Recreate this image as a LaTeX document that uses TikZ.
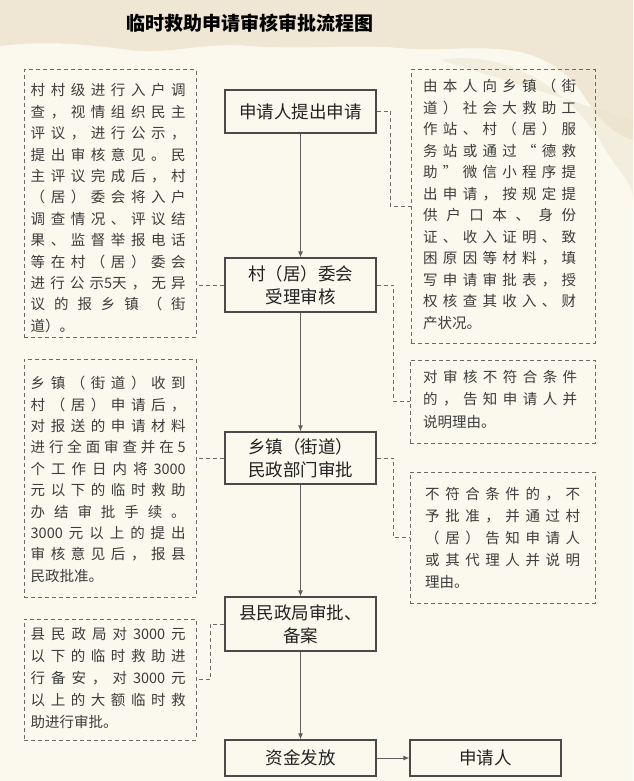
\documentclass[tikz,border=0pt]{standalone}
\usepackage{fontspec}
\newfontfamily\cjk{Noto Sans CJK SC}
\usetikzlibrary{arrows.meta,calc}
\definecolor{bgcream}{HTML}{FBF9EE}
\definecolor{bgbeige}{HTML}{EDE3CF}
\definecolor{boxline}{HTML}{4A4A4A}
\definecolor{maintext}{HTML}{222222}
\definecolor{notetext}{HTML}{3C3C3C}
\definecolor{dashcol}{HTML}{6A6A6A}
\newcommand{\jl}[2]{\makebox[#1][s]{#2}}
\tikzset{
  mainbox/.style={draw=boxline, line width=1.1pt, fill=bgcream, text=maintext,
    font=\cjk\fontsize{17.5}{23}\selectfont, align=center, inner sep=0pt},
  notebox/.style={draw=dashcol, line width=1pt, dash pattern=on 4pt off 3pt, inner sep=0pt},
  notetxt/.style={text=notetext, font=\cjk\fontsize{14.5}{21.4}\selectfont, align=left,
    inner sep=0pt, anchor=north west},
  flow/.style={draw=dashcol!90!black, line width=1pt, -{Latex[length=6pt,width=5pt]}},
  dline/.style={draw=dashcol, line width=1pt, dash pattern=on 4pt off 3pt},
}
\begin{document}
\begin{tikzpicture}[x=1pt,y=-1pt]
\useasboundingbox (0,0) rectangle (633,781);
\fill[bgcream] (0,0) rectangle (633,781);
% beige cloud background at top
\fill[bgbeige, opacity=0.85] (0,0) -- (633,0) -- (633,140)
  .. controls (615,135) and (600,120) .. (590,105)
  .. controls (575,80) and (555,60) .. (520,52)
  .. controls (480,44) and (440,52) .. (400,48)
  .. controls (350,44) and (300,50) .. (250,46)
  .. controls (200,42) and (170,55) .. (130,50)
  .. controls (90,45) and (50,40) .. (0,46) -- cycle;
\fill[bgbeige, opacity=0.5] (440,60) .. controls (500,50) and (560,80) .. (600,140)
  .. controls (615,170) and (633,180) .. (633,200) -- (633,120) -- cycle;

% title
\node[font=\cjk\bfseries\fontsize{19}{22}\selectfont, text=black] (title) at (250,23) {临时救助申请审核审批流程图};

% main boxes
\node[mainbox, minimum width=151pt, minimum height=43pt] (B1) at (300.5,111.5) {申请人提出申请};
\node[mainbox, minimum width=151pt, minimum height=54pt] (B2) at (300.5,285) {村（居）委会\\受理审核};
\node[mainbox, minimum width=151pt, minimum height=52pt] (B3) at (300.5,458) {乡镇（街道）\\民政部门审批};
\node[mainbox, minimum width=151pt, minimum height=54pt] (B4) at (300.5,624) {县民政局审批、\\备案};
\node[mainbox, minimum width=151pt, minimum height=36pt] (B5) at (300.5,758) {资金发放};
\node[mainbox, minimum width=151pt, minimum height=36pt] (B6) at (485.5,758) {申请人};

% dashed note boxes
\node[notebox, minimum width=172pt, minimum height=267pt] (L1) at (110,203.5) {};
\node[notebox, minimum width=172pt, minimum height=238pt] (L2) at (110,478) {};
\node[notebox, minimum width=172pt, minimum height=121pt] (L3) at (110,679.5) {};
\node[notebox, minimum width=184pt, minimum height=273pt] (R1) at (503,206.5) {};
\node[notebox, minimum width=185pt, minimum height=83pt] (R2) at (502.5,401.5) {};
\node[notebox, minimum width=185pt, minimum height=131pt] (R3) at (502.5,537.5) {};

% note texts
\node[notetxt] (L1t) at (30.5,83.5) {%
\jl{155pt}{村 村 级 进 行 入 户 调}\\
\jl{155pt}{查 ， 视 情 组 织 民 主}\\
\jl{155pt}{评 议 ， 进 行 公 示 ，}\\
\jl{155pt}{提 出 审 核 意 见 。 民}\\
\jl{155pt}{主 评 议 完 成 后 ， 村}\\
\jl{155pt}{（ 居 ） 委 会 将 入 户}\\
\jl{155pt}{调 查 情 况 、 评 议 结}\\
\jl{155pt}{果 、 监 督 举 报 电 话}\\
\jl{155pt}{等 在 村 （ 居 ） 委 会}\\
\jl{155pt}{进 行 公 示5天 ， 无 异}\\
\jl{155pt}{议 的 报 乡 镇 （ 街}\\
道）。};

\node[notetxt] (L2t) at (30.5,376) {%
\jl{155pt}{乡 镇 （ 街 道 ） 收 到}\\
\jl{155pt}{村 （ 居 ） 申 请 后 ，}\\
\jl{155pt}{对 报 送 的 申 请 材 料}\\
\jl{155pt}{进 行 全 面 审 查 并 在 5}\\
\jl{155pt}{个 工 作 日 内 将 3000}\\
\jl{155pt}{元 以 下 的 临 时 救 助}\\
\jl{155pt}{办 结 审 批 手 续 。}\\
\jl{155pt}{3000 元 以 上 的 提 出}\\
\jl{155pt}{审 核 意 见 后 ， 报 县}\\
民政批准。};

\node[notetxt, font=\cjk\fontsize{14.5}{22}\selectfont] (L3t) at (30.5,627.5) {%
\jl{155pt}{县 民 政 局 对 3000 元}\\
\jl{155pt}{以 下 的 临 时 救 助 进}\\
\jl{155pt}{行 备 安 ， 对 3000 元}\\
\jl{155pt}{以 上 的 大 额 临 时 救}\\
助进行审批。};

\node[notetxt, font=\cjk\fontsize{14.5}{21.5}\selectfont] (R1t) at (423,79) {%
\jl{153pt}{由 本 人 向 乡 镇 （ 街}\\
\jl{153pt}{道 ） 社 会 大 救 助 工}\\
\jl{153pt}{作 站 、 村 （ 居 ） 服}\\
\jl{153pt}{务 站 或 通 过 “ 德 救}\\
\jl{153pt}{助 ” 微 信 小 程 序 提}\\
\jl{153pt}{出 申 请 ， 按 规 定 提}\\
\jl{153pt}{供 户 口 本 、 身 份}\\
\jl{153pt}{证 、 收 入 证 明 、 致}\\
\jl{153pt}{困 原 因 等 材 料 ， 填}\\
\jl{153pt}{写 申 请 审 批 表 ， 授}\\
\jl{153pt}{权 核 查 其 收 入 、 财}\\
产状况。};

\node[notetxt, font=\cjk\fontsize{14.5}{22.5}\selectfont] (R2t) at (423,370) {%
\jl{154pt}{对 审 核 不 符 合 条 件}\\
\jl{154pt}{的 ， 告 知 申 请 人 并}\\
说明理由。};

\node[notetxt, font=\cjk\fontsize{14.5}{22}\selectfont] (R3t) at (425,487) {%
\jl{155pt}{不 符 合 条 件 的 ， 不}\\
\jl{155pt}{予 批 准 ， 并 通 过 村}\\
\jl{155pt}{（ 居 ） 告 知 申 请 人}\\
\jl{155pt}{或 其 代 理 人 并 说 明}\\
理由。};

% flow arrows
\draw[flow] (B1) -- (B2);
\draw[flow] (B2) -- (B3);
\draw[flow] (B3) -- (B4);
\draw[flow] (B4) -- (B5);
\draw[flow] (B5) -- (B6);

% dashed connectors
\draw[dline] (B1.east) -- ++(14,0) |- (R1.west);
\draw[dline] (B2.east) -- ++(17,0) |- (R2.west);
\draw[dline] (B3.east) -- ++(17,0) |- (R3.west);
\draw[dline] (B2.west) -- (B2.west -| L1.east);
\draw[dline] (B3.west) -- (B3.west -| L2.east);
\draw[dline] (B4.west) -- ++(-14,0) |- (L3.east);
\end{tikzpicture}
\end{document}
